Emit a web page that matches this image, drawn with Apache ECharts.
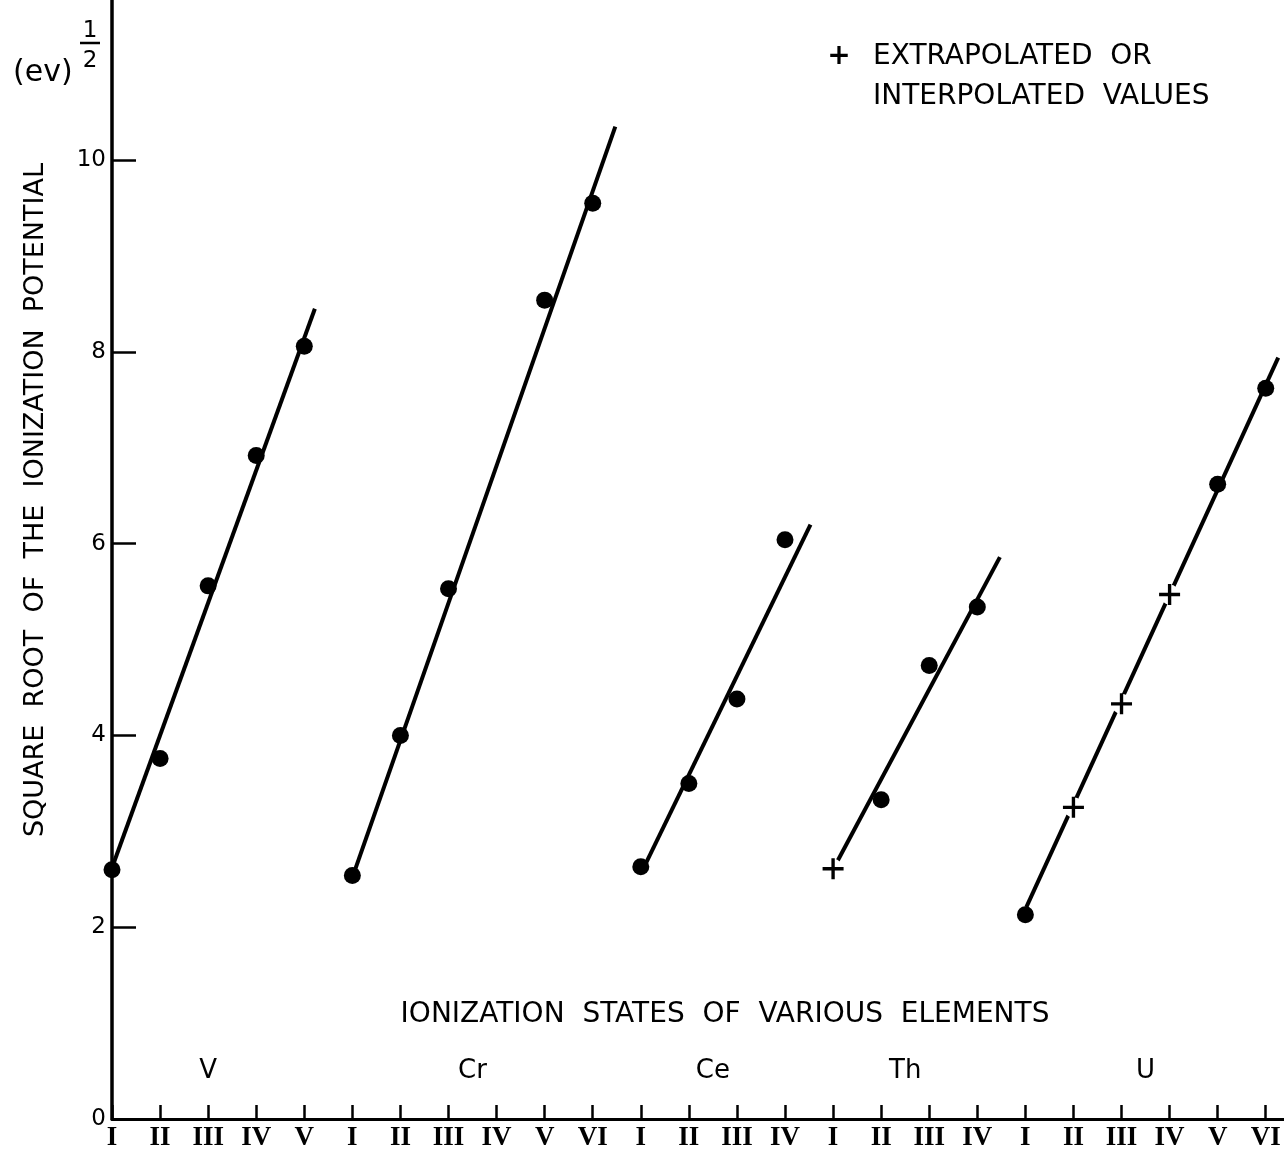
<!DOCTYPE html>
<html>
<head>
<meta charset="utf-8">
<script src="https://cdn.jsdelivr.net/npm/echarts@6/dist/echarts.min.js"></script>
<style>
html, body { margin: 0; padding: 0; background: #fff; }
#chart { width: 1284px; height: 1153px; }
</style>
</head>
<body>
<div id="chart"></div>
<script>
// ionization states along the x axis, one tick per state
const stateLabels = ['I', 'II', 'III', 'IV', 'V',
  'I', 'II', 'III', 'IV', 'V', 'VI',
  'I', 'II', 'III', 'IV',
  'I', 'II', 'III', 'IV',
  'I', 'II', 'III', 'IV', 'V', 'VI'];
const elements = ['V', 'Cr', 'Ce', 'Th', 'U'];
const groupStart = [0, 5, 11, 15, 19];
const groupSize = [5, 6, 4, 4, 6];
const yTicks = [0, 2, 4, 6, 8, 10];

// square root of ionization potential, (ev)^1/2
const vValues = [2.60, 3.76, 5.56, 6.92, 8.06];
const crValues = [2.54, 4.00, 5.53, null, 8.54, 9.55];
const ceValues = [2.63, 3.50, 4.38, 6.04];
const thValues = [2.61, 3.33, 4.73, 5.34];
const uValues = [2.13, 3.25, 4.33, 5.47, 6.62, 7.62];
const groupValues = [vValues, crValues, ceValues, thValues, uValues];

// extrapolated or interpolated points (drawn as +), by position in the group
const thEstimated = [0];
const uEstimated = [1, 2, 3];
const groupEstimated = [[], [], [], thEstimated, uEstimated];

// fitted straight lines: [state index, value] at both ends
const vFit = [[0, 2.62], [4.22, 8.45]];
const crFit = [[5.05, 2.59], [10.47, 10.35]];
const ceFit = [[11.09, 2.65], [14.53, 6.20]];
const thFit = [[15.07, 2.67], [18.47, 5.86]];
const uFit = [[19.02, 2.21], [24.26, 7.94]];
const groupFits = [vFit, crFit, ceFit, thFit, uFit];

const dots = [];
const crosses = [];
groupValues.forEach((vals, g) => {
  vals.forEach((v, i) => {
    if (v == null) return;
    const pt = [groupStart[g] + i, v];
    if (groupEstimated[g].indexOf(i) >= 0) crosses.push(pt);
    else dots.push(pt);
  });
});

const elementLabels = elements.map((name, g) => [groupStart[g] + (groupSize[g] - 1) / 2, 0.5, name]);

const myChart = echarts.init(document.getElementById('chart'));
const lettering = 'DejaVu Sans';

const series = groupFits.map((fit, g) => ({
  name: elements[g],
  type: 'line',
  data: fit,
  showSymbol: false,
  lineStyle: { color: '#000', width: 4 },
  z: 2
}));

series.push({
  type: 'scatter',
  data: crosses,
  symbol: 'circle',
  symbolSize: 20,
  itemStyle: { color: '#fff', opacity: 1 },
  z: 3
});
series.push({
  type: 'scatter',
  data: crosses,
  symbol: 'path://M0,8.4H20V11.6H0Z M8.4,0H11.6V20H8.4Z',
  symbolSize: 21,
  itemStyle: { color: '#000', opacity: 1 },
  z: 4
});
series.push({
  type: 'scatter',
  data: dots,
  symbol: 'circle',
  symbolSize: 17,
  itemStyle: { color: '#000', opacity: 1 },
  z: 4
});
series.push({
  type: 'scatter',
  data: elementLabels,
  symbolSize: 1,
  itemStyle: { color: 'rgba(0,0,0,0)', opacity: 1 },
  label: {
    show: true,
    position: 'inside',
    formatter: p => p.value[2],
    color: '#000',
    fontFamily: lettering,
    fontSize: 26
  },
  z: 4
});

myChart.setOption({
  backgroundColor: '#fff',
  animation: false,
  grid: { left: 112, right: 0, top: 0, bottom: 34, outerBoundsMode: 'none' },
  xAxis: {
    type: 'value',
    min: 0,
    max: 24.38,
    interval: 1,
    axisLine: { lineStyle: { color: '#000', width: 3 } },
    axisTick: {
      inside: true,
      length: 14,
      customValues: stateLabels.map((s, i) => i),
      lineStyle: { color: '#000', width: 2.5 }
    },
    axisLabel: {
      customValues: stateLabels.map((s, i) => i),
      formatter: v => stateLabels[v] || '',
      fontFamily: 'Liberation Serif',
      fontWeight: 'bold',
      fontSize: 27,
      color: '#000',
      margin: 6
    },
    splitLine: { show: false }
  },
  yAxis: {
    type: 'value',
    min: 0,
    max: 11.67,
    interval: 2,
    axisLine: { show: true, lineStyle: { color: '#000', width: 3.5 } },
    axisTick: {
      show: true,
      inside: true,
      length: 24,
      customValues: yTicks,
      lineStyle: { color: '#000', width: 2.5 }
    },
    axisLabel: {
      customValues: yTicks,
      fontFamily: lettering,
      fontSize: 23,
      color: '#000',
      margin: 6
    },
    splitLine: { show: false }
  },
  graphic: [
    {
      type: 'text', x: 36, y: 500, rotation: Math.PI / 2,
      style: {
        text: 'SQUARE  ROOT  OF  THE  IONIZATION  POTENTIAL',
        fill: '#000', font: '27px "DejaVu Sans"',
        align: 'center', verticalAlign: 'middle',
        textAlign: 'center', textVerticalAlign: 'middle'
      }
    },
    {
      type: 'text', x: 13, y: 73,
      style: {
        text: '(ev)', fill: '#000', font: '30px "DejaVu Sans"',
        align: 'left', verticalAlign: 'middle', textAlign: 'left', textVerticalAlign: 'middle'
      }
    },
    {
      type: 'text', x: 90, y: 31,
      style: {
        text: '1', fill: '#000', font: '23px "DejaVu Sans"',
        align: 'center', verticalAlign: 'middle', textAlign: 'center', textVerticalAlign: 'middle'
      }
    },
    {
      type: 'line', shape: { x1: 80, y1: 43, x2: 100, y2: 43 },
      style: { stroke: '#000', lineWidth: 2.5 }
    },
    {
      type: 'text', x: 90, y: 61,
      style: {
        text: '2', fill: '#000', font: '23px "DejaVu Sans"',
        align: 'center', verticalAlign: 'middle', textAlign: 'center', textVerticalAlign: 'middle'
      }
    },
    {
      type: 'text', x: 839, y: 57,
      style: {
        text: '+', fill: '#000', font: 'bold 28px "DejaVu Sans"',
        align: 'center', verticalAlign: 'middle', textAlign: 'center', textVerticalAlign: 'middle'
      }
    },
    {
      type: 'text', x: 873, y: 57,
      style: {
        text: 'EXTRAPOLATED  OR', fill: '#000', font: '28px "DejaVu Sans"',
        align: 'left', verticalAlign: 'middle', textAlign: 'left', textVerticalAlign: 'middle'
      }
    },
    {
      type: 'text', x: 873, y: 97,
      style: {
        text: 'INTERPOLATED  VALUES', fill: '#000', font: '28px "DejaVu Sans"',
        align: 'left', verticalAlign: 'middle', textAlign: 'left', textVerticalAlign: 'middle'
      }
    },
    {
      type: 'text', x: 725, y: 1015,
      style: {
        text: 'IONIZATION  STATES  OF  VARIOUS  ELEMENTS', fill: '#000', font: '28px "DejaVu Sans"',
        align: 'center', verticalAlign: 'middle', textAlign: 'center', textVerticalAlign: 'middle'
      }
    }
  ],
  series: series
});
</script>
</body>
</html>
